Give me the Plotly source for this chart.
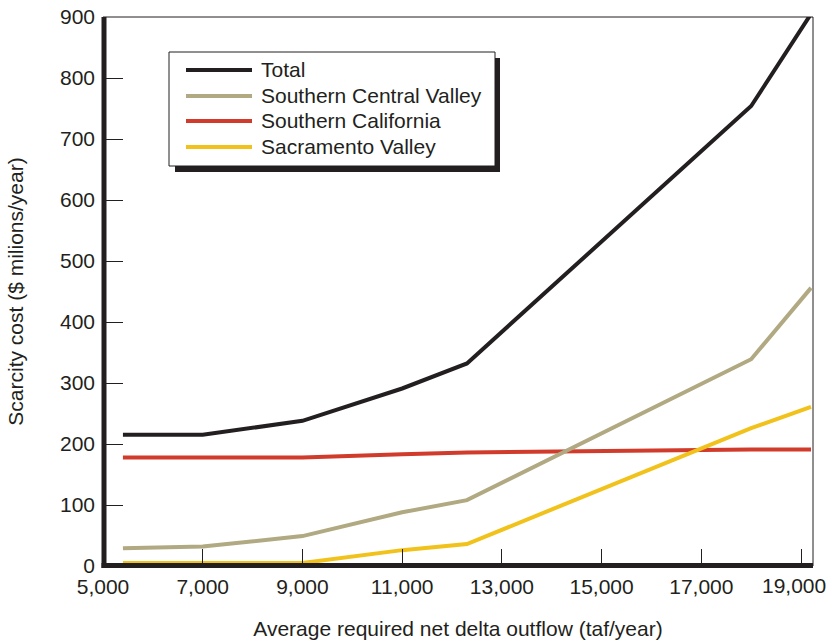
import plotly.graph_objects as go

# ---- data ----
outflow = [5400, 7000, 9000, 11000, 12300, 18000, 19200]
series_names = ["Total", "Southern Central Valley", "Southern California", "Sacramento Valley"]
total = [215, 215, 238, 291, 332, 754, 905]
southern_central_valley = [29, 32, 49, 88, 108, 339, 456]
southern_california = [178, 178, 178, 183, 186, 191, 191]
sacramento_valley = [5, 5, 5, 26, 36, 226, 261]
x_ticks = [5000, 7000, 9000, 11000, 13000, 15000, 17000, 19000]
x_tick_labels = ["5,000", "7,000", "9,000", "11,000", "13,000", "15,000", "17,000", "19,000"]
y_ticks = [0, 100, 200, 300, 400, 500, 600, 700, 800, 900]
y_tick_labels = ["0", "100", "200", "300", "400", "500", "600", "700", "800", "900"]

colors = ["#231f20", "#b1a982", "#d13b2b", "#f1c21b"]
values = [total, southern_central_valley, southern_california, sacramento_valley]
FONT = "Arial, Liberation Sans, Helvetica, sans-serif"
INK = "#231f20"

W, H = 831, 640
L, R, T, B = 103, 18, 17, 74
PW, PH = W - L - R, H - T - B


def px_x(p):
    return (p - L) / PW


def px_y(p):
    return (H - B - p) / PH


fig = go.Figure()
order = [2, 1, 3, 0]
for i in order:
    fig.add_trace(go.Scatter(
        x=outflow, y=values[i], mode="lines", name=series_names[i],
        line=dict(color=colors[i], width=4), showlegend=False,
    ))

shapes = []
# thin frame
shapes.append(dict(type="rect", xref="paper", yref="paper", x0=0, x1=1, y0=0, y1=1,
                   line=dict(color=INK, width=1), layer="below"))
# thick left and bottom axis lines, centred on the plot edge
shapes.append(dict(type="line", xref="paper", yref="paper", x0=px_x(104), x1=px_x(104),
                   y0=px_y(568), y1=1, line=dict(color=INK, width=5)))
shapes.append(dict(type="line", xref="paper", yref="paper", x0=px_x(101.5), x1=1,
                   y0=px_y(565.5), y1=px_y(565.5), line=dict(color=INK, width=5)))
# legend shadow and box
bx0, bx1, by0, by1 = 169, 495, 52, 166
shapes.append(dict(type="rect", xref="paper", yref="paper",
                   x0=px_x(bx0 + 6), x1=px_x(bx1 + 5), y0=px_y(by1 + 6), y1=px_y(by0 + 6),
                   fillcolor=INK, line=dict(width=0)))
shapes.append(dict(type="rect", xref="paper", yref="paper",
                   x0=px_x(bx0), x1=px_x(bx1), y0=px_y(by1), y1=px_y(by0),
                   fillcolor="white", line=dict(color=INK, width=1)))
annotations = []
rows = [70, 96, 121, 147]
for name, col, ry in zip(series_names, colors, rows):
    shapes.append(dict(type="line", xref="paper", yref="paper",
                       x0=px_x(186), x1=px_x(252), y0=px_y(ry), y1=px_y(ry),
                       line=dict(color=col, width=4)))
    annotations.append(dict(text=name, xref="paper", yref="paper", x=px_x(259), y=px_y(ry),
                            xanchor="left", yanchor="middle", showarrow=False,
                            font=dict(family=FONT, size=21, color=INK)))

# last x tick label sits a little left of its tick (as in the reference) so it stays inside
shown_tick_text = x_tick_labels[:-1] + [""]
annotations.append(dict(text=x_tick_labels[-1], xref="x", yref="paper", x=x_ticks[-1],
                        y=px_y(586), xanchor="center", yanchor="middle", xshift=-7,
                        showarrow=False, font=dict(family=FONT, size=21, color=INK)))

fig.update_layout(
    width=W, height=H,
    margin=dict(l=L, r=R, t=T, b=B, pad=0),
    paper_bgcolor="white", plot_bgcolor="white",
    font=dict(family=FONT, size=21, color=INK),
    shapes=shapes, annotations=annotations,
    xaxis=dict(
        range=[5000, 19240], tickvals=x_ticks, ticktext=shown_tick_text,
        ticks="inside", ticklen=17, tickwidth=1, tickcolor=INK,
        showline=False, showgrid=False, zeroline=False,
        tickfont=dict(family=FONT, size=21, color=INK),
        ticklabeloverflow="allow", ticklabelstandoff=6,
        title=dict(text="Average required net delta outflow (taf/year)",
                   font=dict(family=FONT, size=21, color=INK), standoff=26),
        automargin=False,
    ),
    yaxis=dict(
        range=[0, 900], tickvals=y_ticks, ticktext=y_tick_labels,
        ticks="inside", ticklen=20, tickwidth=1, tickcolor=INK,
        showline=False, showgrid=False, zeroline=False,
        tickfont=dict(family=FONT, size=21, color=INK),
        ticklabelstandoff=7,
        title=dict(text="Scarcity cost ($ milions/year)",
                   font=dict(family=FONT, size=21, color=INK), standoff=30),
        automargin=False,
    ),
)

fig.write_html("out.html", config={"displayModeBar": False},
               post_script="document.body.style.margin='0';document.body.style.overflow='hidden';")
